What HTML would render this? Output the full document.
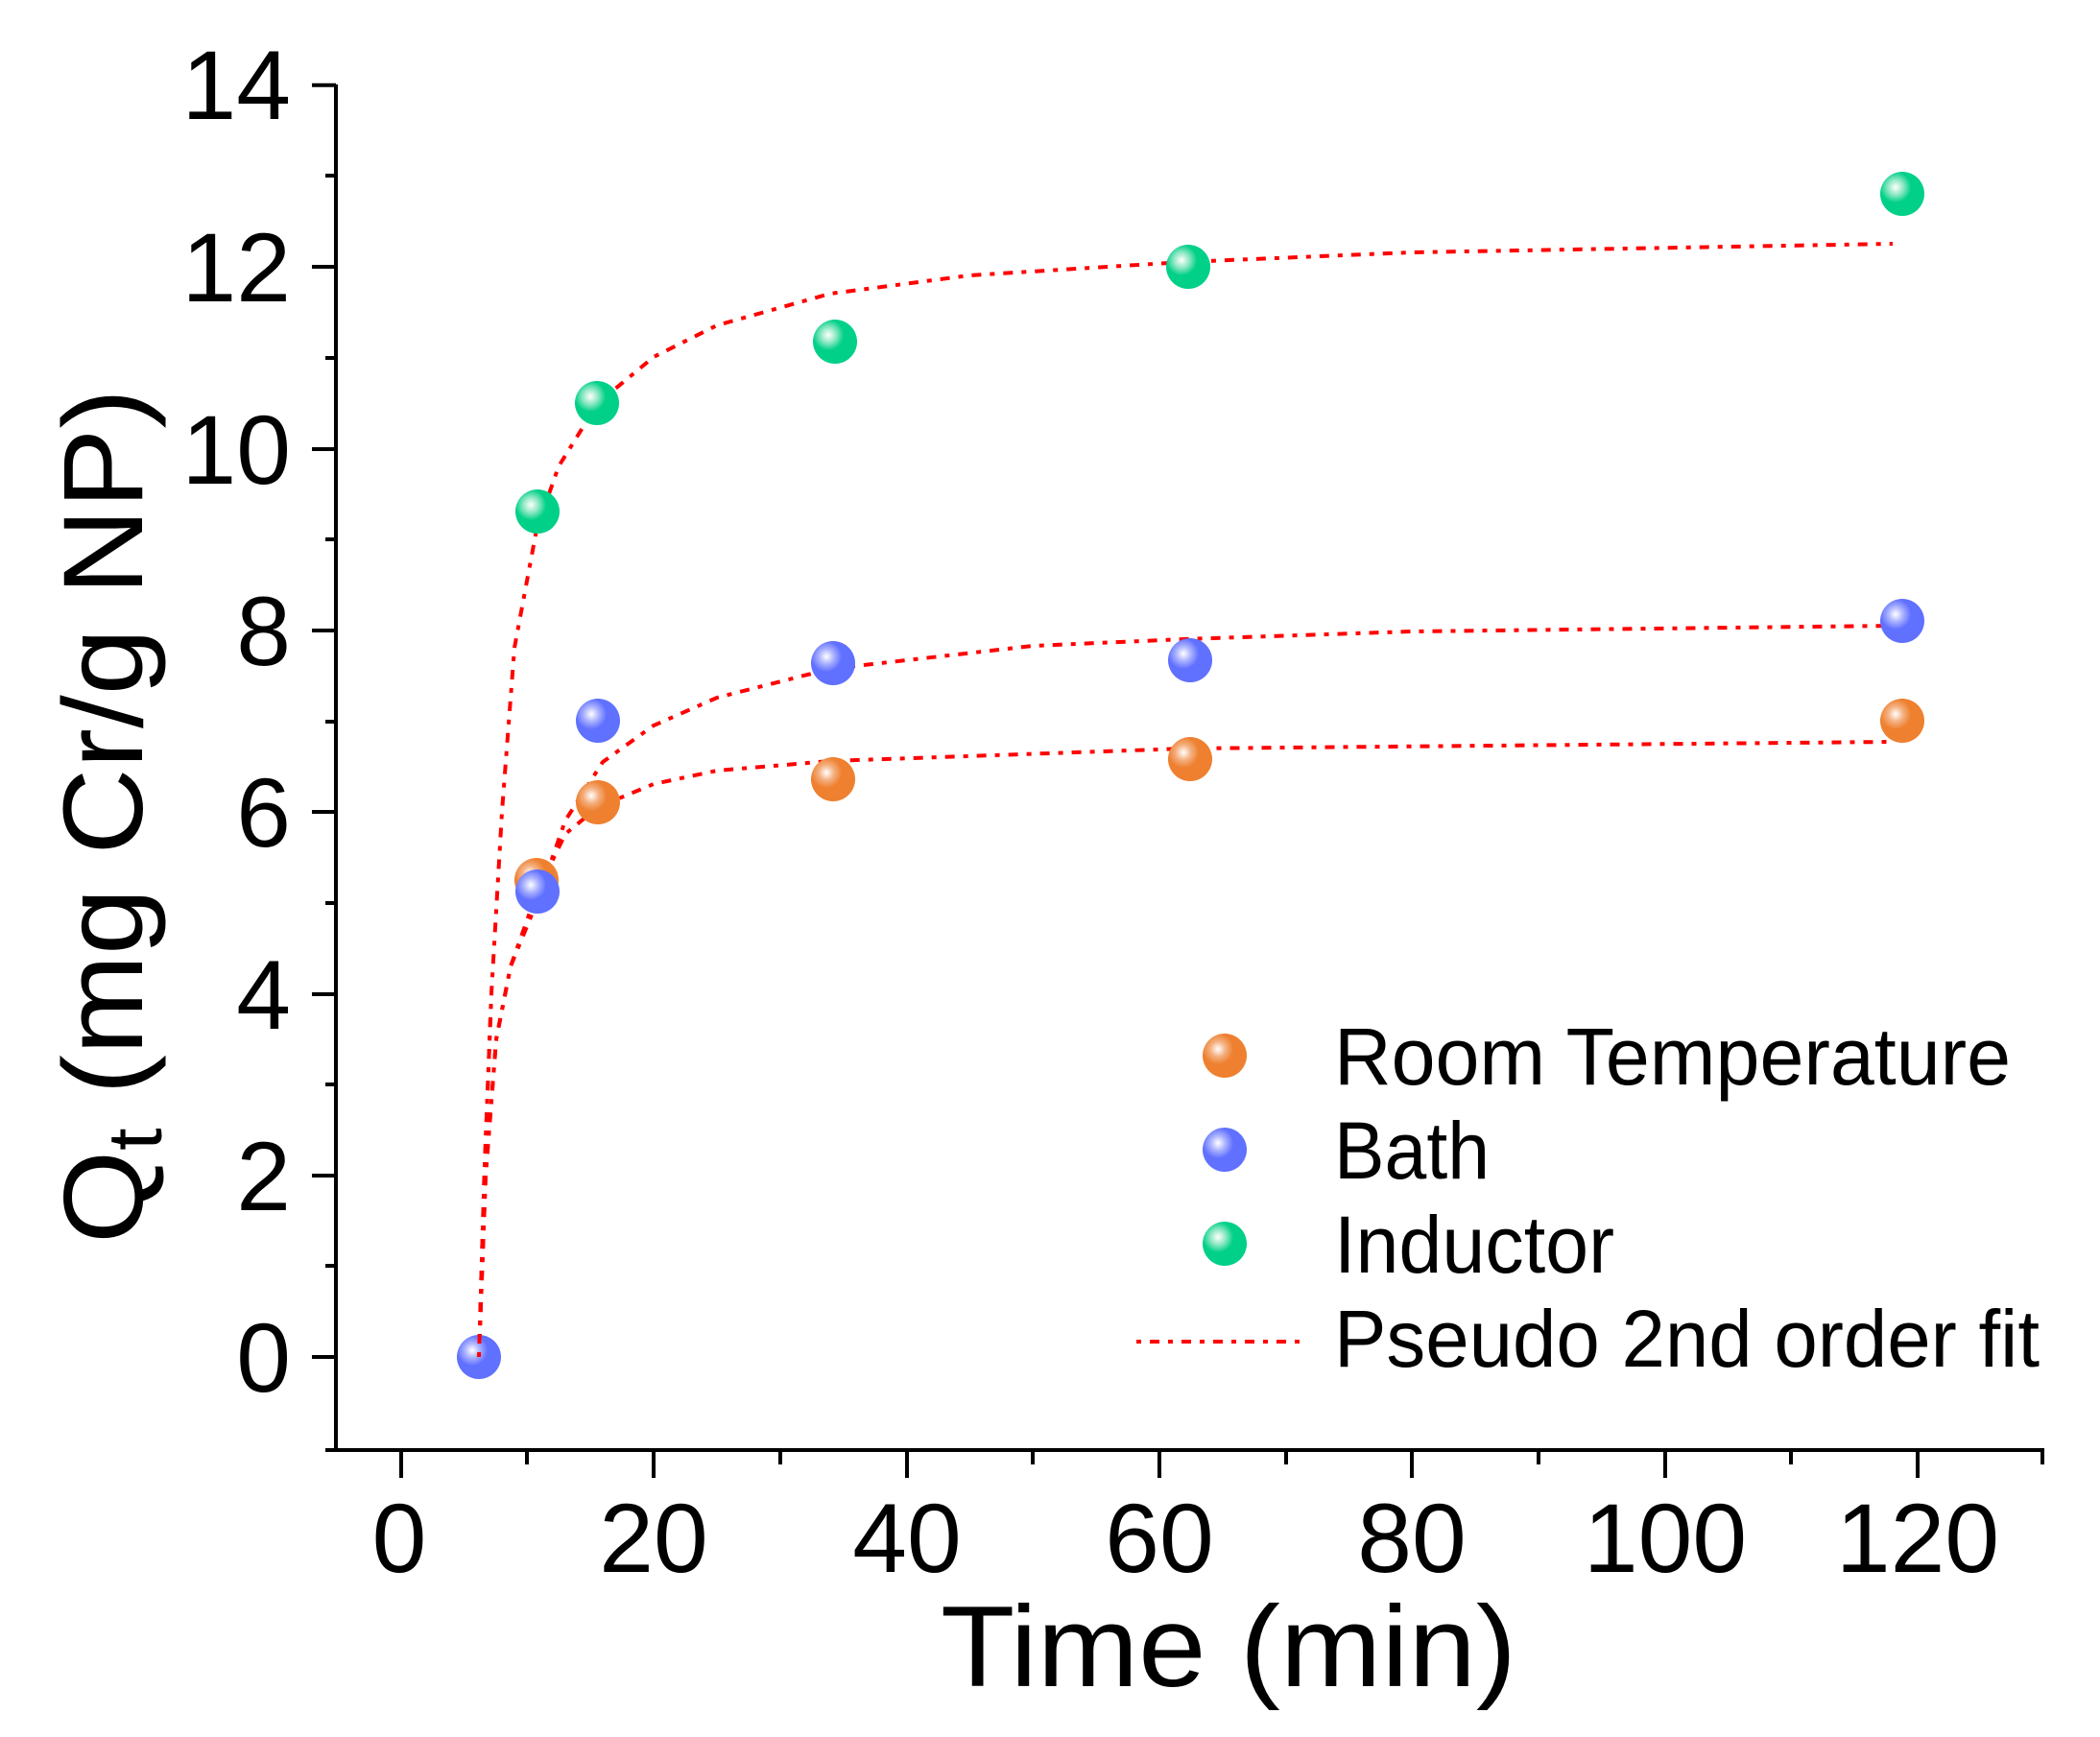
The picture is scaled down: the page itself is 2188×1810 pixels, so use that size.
<!DOCTYPE html>
<html><head><meta charset="utf-8"><style>
html,body{margin:0;padding:0;background:#fff;}
svg{display:block;}
text{font-family:"Liberation Sans",Arial,sans-serif;fill:#000;}
</style></head><body>
<svg width="2188" height="1810" viewBox="0 0 2188 1810" xmlns="http://www.w3.org/2000/svg">
<defs>
<radialGradient id="go" cx="0.35" cy="0.35" r="0.7"><stop offset="0" stop-color="#fff"/><stop offset="0.25" stop-color="#f4b080"/><stop offset="0.5" stop-color="#ee8030"/><stop offset="1" stop-color="#ee8030"/></radialGradient>
<radialGradient id="gb" cx="0.35" cy="0.35" r="0.7"><stop offset="0" stop-color="#fff"/><stop offset="0.25" stop-color="#a8b0ff"/><stop offset="0.5" stop-color="#6070ff"/><stop offset="1" stop-color="#6070ff"/></radialGradient>
<radialGradient id="gg" cx="0.35" cy="0.35" r="0.7"><stop offset="0" stop-color="#fff"/><stop offset="0.25" stop-color="#8ee8c4"/><stop offset="0.5" stop-color="#00d088"/><stop offset="1" stop-color="#00d088"/></radialGradient>
</defs>
<g stroke="#000" stroke-width="4" fill="none">
<path d="M350 88 V1511 M339 1511 H2130"/>
<path d="M325 88.8H350 M325 278H350 M325 468H350 M325 657H350 M325 846H350 M325 1036H350 M325 1225H350 M325 1414H350"/>
<path d="M339 183H350 M339 373H350 M339 562H350 M339 752H350 M339 941H350 M339 1130H350 M339 1319H350"/>
<path d="M418 1511V1540 M681 1511V1540 M945 1511V1540 M1208 1511V1540 M1471 1511V1540 M1735 1511V1540 M1998 1511V1540"/>
<path d="M549 1511V1526 M813 1511V1526 M1076 1511V1526 M1340 1511V1526 M1603 1511V1526 M1866 1511V1526 M2128 1511V1526"/>
</g>
<g font-size="102" text-anchor="end">
<text x="303" y="124">14</text><text x="303" y="314">12</text><text x="303" y="504">10</text>
<text x="303" y="693">8</text><text x="303" y="882">6</text><text x="303" y="1072">4</text>
<text x="303" y="1261">2</text><text x="303" y="1450">0</text>
</g>
<g font-size="102" text-anchor="middle">
<text x="416" y="1638">0</text><text x="681" y="1638">20</text><text x="945" y="1638">40</text>
<text x="1208" y="1638">60</text><text x="1471" y="1638">80</text><text x="1735" y="1638">100</text><text x="1998" y="1638">120</text>
</g>
<text x="980" y="1757" font-size="120" textLength="600" lengthAdjust="spacingAndGlyphs">Time (min)</text>
<text transform="translate(148,1296) rotate(-90)" font-size="118" textLength="891" lengthAdjust="spacingAndGlyphs">Q<tspan font-size="80" dy="20">t</tspan><tspan dy="-20"> (mg Cr/g NP)</tspan></text>
<g stroke="#ff0000" stroke-width="4" fill="none" stroke-dasharray="5,9,10,9">
<polyline points="499,1414 504.6,1225 512,1035 523,846 536,675 559,552 582,486 623,420 681,372 747,339 865,306 1010,287 1234,273 1471,263 1972,254"/>
<polyline points="499,1414 506,1225 517,1083 532,1007 559,941 589,855 628,794 681,756 747,727 865,697 1076,673 1234,666 1471,658 1972,652"/>
<polyline points="499,1414 506,1225 517,1083 532,1007 559,931 589,869 623,841 681,817 747,803 865,793 1234,780 1972,773"/>
</g>
<g>
<circle cx="559" cy="917" r="23" fill="url(#go)"/><circle cx="623" cy="836" r="23" fill="url(#go)"/><circle cx="868" cy="812" r="23" fill="url(#go)"/><circle cx="1240" cy="791" r="23" fill="url(#go)"/><circle cx="1982" cy="751" r="23" fill="url(#go)"/>
<circle cx="499" cy="1414" r="23" fill="url(#gb)"/><circle cx="560" cy="929" r="23" fill="url(#gb)"/><circle cx="623" cy="751" r="23" fill="url(#gb)"/><circle cx="868" cy="691" r="23" fill="url(#gb)"/><circle cx="1240" cy="688" r="23" fill="url(#gb)"/><circle cx="1982" cy="647" r="23" fill="url(#gb)"/>
<circle cx="560" cy="533" r="23" fill="url(#gg)"/><circle cx="622" cy="420" r="23" fill="url(#gg)"/><circle cx="870" cy="356" r="23" fill="url(#gg)"/><circle cx="1238" cy="278" r="23" fill="url(#gg)"/><circle cx="1982" cy="202" r="23" fill="url(#gg)"/>
</g>
<g stroke="#ff0000" stroke-width="4" stroke-dasharray="5,9,10,9" fill="none">
<polyline points="499,1414 504.6,1225 512,1035"/>
</g>
<circle cx="1276" cy="1100" r="23" fill="url(#go)"/>
<circle cx="1276" cy="1198" r="23" fill="url(#gb)"/>
<circle cx="1276" cy="1296" r="23" fill="url(#gg)"/>
<line x1="1184" y1="1398" x2="1362" y2="1398" stroke="#ff0000" stroke-width="4" stroke-dasharray="5,9,10,9"/>
<g font-size="84">
<text x="1390" y="1130" textLength="705" lengthAdjust="spacingAndGlyphs">Room Temperature</text>
<text x="1390" y="1228" textLength="162" lengthAdjust="spacingAndGlyphs">Bath</text>
<text x="1390" y="1326" textLength="292" lengthAdjust="spacingAndGlyphs">Inductor</text>
<text x="1390" y="1424" textLength="735" lengthAdjust="spacingAndGlyphs">Pseudo 2nd order fit</text>
</g>
</svg>
</body></html>
